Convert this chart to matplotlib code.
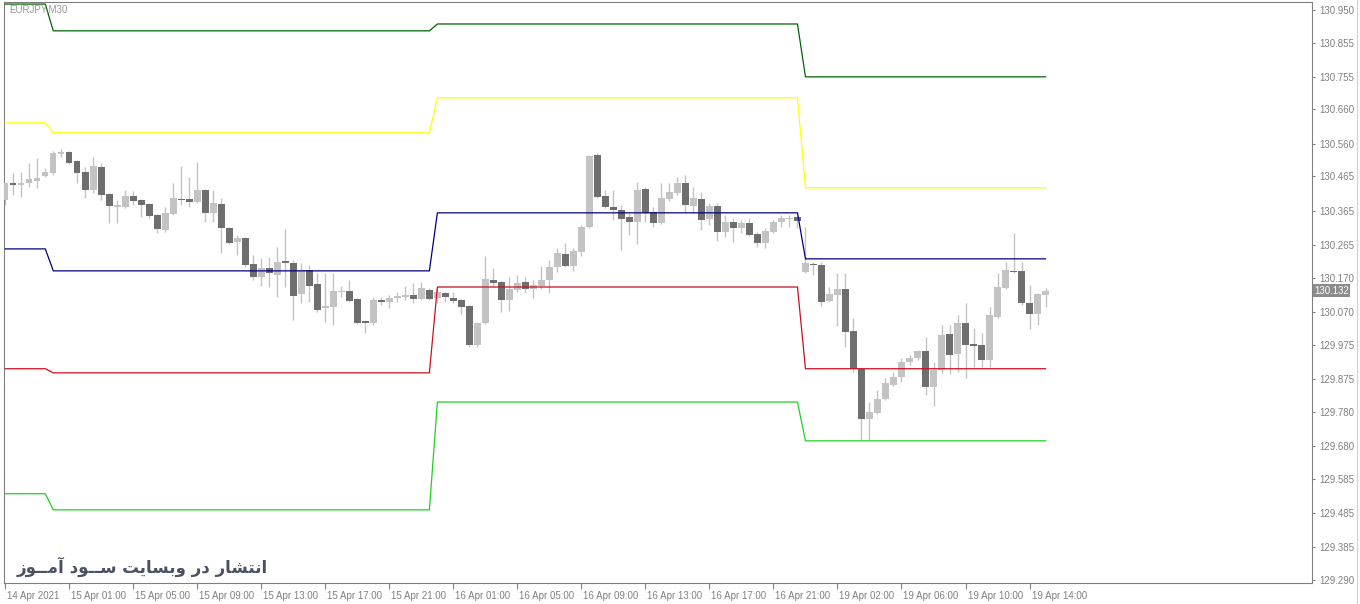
import numpy as np
import matplotlib
matplotlib.use('Agg')
import matplotlib.pyplot as plt
from matplotlib.lines import Line2D
from matplotlib.transforms import ScaledTranslation

plt.rcParams['font.family'] = ['Liberation Sans', 'DejaVu Sans']

# EURJPY M30 bars, 14 Apr 21:00 .. 19 Apr 15:00 (x = bar number)
opens = [130.397, 130.445, 130.440, 130.446, 130.452, 130.466, 130.475, 130.531, 130.536, 130.510,
         130.478, 130.426, 130.493, 130.414, 130.376, 130.376, 130.408, 130.397, 130.385, 130.353,
         130.309, 130.356, 130.400, 130.400, 130.391, 130.426, 130.359, 130.385, 130.315, 130.274,
         130.286, 130.210, 130.172, 130.199, 130.178, 130.219, 130.213, 130.123, 130.193, 130.152,
         130.082, 130.085, 130.129, 130.132, 130.108, 130.044, 130.038, 130.105, 130.100, 130.111,
         130.114, 130.120, 130.108, 130.135, 130.111, 130.126, 130.111, 130.105, 130.088, 129.975,
         130.038, 130.164, 130.158, 130.105, 130.135, 130.158, 130.137, 130.146, 130.164, 130.201,
         130.239, 130.204, 130.245, 130.318, 130.528, 130.408, 130.376, 130.367, 130.347, 130.333,
         130.429, 130.362, 130.330, 130.400, 130.417, 130.446, 130.379, 130.400, 130.341, 130.379,
         130.304, 130.333, 130.315, 130.330, 130.298, 130.271, 130.304, 130.333, 130.341, 130.347,
         130.187, 130.210, 130.207, 130.102, 130.120, 130.137, 130.015, 129.904, 129.759, 129.776,
         129.817, 129.858, 129.881, 129.925, 129.936, 129.957, 129.852, 129.902, 130.006, 129.948,
         130.038, 129.977, 129.975, 129.931, 130.056, 130.140, 130.190, 130.190, 130.097, 130.065,
         130.120]
highs = [130.446, 130.475, 130.478, 130.504, 130.519, 130.490, 130.539, 130.545, 130.539, 130.513,
         130.493, 130.522, 130.504, 130.417, 130.397, 130.426, 130.423, 130.400, 130.388, 130.356,
         130.376, 130.446, 130.496, 130.464, 130.507, 130.429, 130.426, 130.403, 130.318, 130.295,
         130.289, 130.236, 130.228, 130.231, 130.260, 130.312, 130.222, 130.213, 130.207, 130.184,
         130.184, 130.184, 130.146, 130.164, 130.111, 130.047, 130.114, 130.114, 130.120, 130.129,
         130.146, 130.155, 130.158, 130.140, 130.140, 130.129, 130.129, 130.108, 130.091, 130.041,
         130.234, 130.199, 130.161, 130.172, 130.178, 130.172, 130.164, 130.204, 130.222, 130.257,
         130.271, 130.257, 130.324, 130.528, 130.533, 130.426, 130.426, 130.382, 130.359, 130.449,
         130.434, 130.376, 130.446, 130.446, 130.464, 130.469, 130.434, 130.420, 130.388, 130.388,
         130.353, 130.344, 130.338, 130.344, 130.304, 130.315, 130.338, 130.353, 130.353, 130.350,
         130.318, 130.216, 130.216, 130.143, 130.184, 130.184, 130.053, 129.907, 129.808, 129.843,
         129.878, 129.896, 129.936, 129.945, 129.960, 129.998, 129.925, 130.033, 130.033, 130.062,
         130.097, 130.024, 130.009, 130.085, 130.184, 130.216, 130.301, 130.216, 130.149, 130.126,
         130.140]
lows = [130.382, 130.411, 130.405, 130.434, 130.432, 130.464, 130.469, 130.522, 130.501, 130.446,
        130.403, 130.417, 130.397, 130.330, 130.330, 130.373, 130.382, 130.347, 130.344, 130.301,
        130.304, 130.353, 130.382, 130.376, 130.388, 130.333, 130.333, 130.242, 130.269, 130.236,
        130.201, 130.164, 130.146, 130.143, 130.114, 130.143, 130.047, 130.097, 130.100, 130.070,
        130.041, 130.033, 130.114, 130.100, 130.035, 130.009, 130.033, 130.091, 130.082, 130.100,
        130.105, 130.097, 130.105, 130.105, 130.097, 130.100, 130.097, 130.064, 129.969, 129.969,
        130.035, 130.143, 130.070, 130.073, 130.129, 130.126, 130.111, 130.137, 130.126, 130.187,
        130.201, 130.190, 130.234, 130.315, 130.403, 130.373, 130.338, 130.251, 130.295, 130.269,
        130.333, 130.318, 130.327, 130.394, 130.411, 130.362, 130.359, 130.309, 130.324, 130.277,
        130.289, 130.274, 130.301, 130.292, 130.260, 130.257, 130.301, 130.318, 130.318, 130.315,
        130.184, 130.178, 130.088, 130.100, 130.030, 129.969, 129.896, 129.698, 129.698, 129.773,
        129.814, 129.855, 129.867, 129.916, 129.931, 129.829, 129.797, 129.893, 129.890, 129.896,
        129.878, 129.910, 129.910, 129.910, 130.053, 130.137, 130.184, 130.091, 130.021, 130.033,
        130.085]
closes = [130.446, 130.440, 130.446, 130.458, 130.461, 130.478, 130.533, 130.536, 130.504, 130.475,
          130.426, 130.496, 130.411, 130.379, 130.382, 130.408, 130.394, 130.382, 130.350, 130.312,
          130.359, 130.403, 130.397, 130.391, 130.426, 130.359, 130.388, 130.315, 130.271, 130.286,
          130.207, 130.172, 130.199, 130.184, 130.216, 130.213, 130.117, 130.193, 130.146, 130.076,
          130.088, 130.132, 130.132, 130.102, 130.038, 130.038, 130.105, 130.100, 130.111, 130.117,
          130.120, 130.108, 130.140, 130.108, 130.129, 130.114, 130.102, 130.085, 129.975, 130.038,
          130.167, 130.155, 130.105, 130.137, 130.155, 130.137, 130.149, 130.164, 130.201, 130.242,
          130.204, 130.248, 130.318, 130.525, 130.405, 130.376, 130.367, 130.341, 130.333, 130.426,
          130.359, 130.330, 130.403, 130.420, 130.446, 130.382, 130.403, 130.338, 130.379, 130.304,
          130.333, 130.315, 130.330, 130.295, 130.271, 130.306, 130.333, 130.344, 130.344, 130.335,
          130.213, 130.207, 130.100, 130.123, 130.137, 130.012, 129.904, 129.759, 129.779, 129.817,
          129.864, 129.881, 129.925, 129.936, 129.957, 129.852, 129.902, 130.003, 129.945, 130.038,
          129.975, 129.972, 129.931, 130.062, 130.143, 130.193, 130.187, 130.097, 130.065, 130.123,
          130.132]

# daily levels: bar where each day starts, one value per day
day_start = [0, 6, 54, 100]
lvl_r2 = [130.967, 130.889, 130.909, 130.755]
lvl_r1 = [130.621, 130.592, 130.694, 130.432]
lvl_pp = [130.254, 130.190, 130.359, 130.225]
lvl_s1 = [129.905, 129.893, 130.143, 129.905]
lvl_s2 = [129.541, 129.494, 129.808, 129.695]

tick_bars = [0, 8, 16, 24, 32, 40, 48, 56, 64, 72, 80, 88, 96, 104, 112, 120, 128]
tick_labels = ['14 Apr 2021', '15 Apr 01:00', '15 Apr 05:00', '15 Apr 09:00', '15 Apr 13:00',
               '15 Apr 17:00', '15 Apr 21:00', '16 Apr 01:00', '16 Apr 05:00', '16 Apr 09:00',
               '16 Apr 13:00', '16 Apr 17:00', '16 Apr 21:00', '19 Apr 02:00', '19 Apr 06:00',
               '19 Apr 10:00', '19 Apr 14:00']
price_ticks = [129.290, 129.385, 129.485, 129.585, 129.680, 129.780, 129.875, 129.975, 130.070,
               130.170, 130.265, 130.365, 130.465, 130.560, 130.660, 130.755, 130.855, 130.950]
last_price = 130.132

watermark = 'انتشار در وبسایت ســود آمــوز'

# --- tiny arabic/persian shaper (matplotlib has no shaping / bidi) ---
FORMS = {
    'ا': ('\uFE8D', '\uFE8E', None, None),
    'آ': ('\uFE81', '\uFE82', None, None),
    'ب': ('\uFE8F', '\uFE90', '\uFE91', '\uFE92'),
    'ت': ('\uFE95', '\uFE96', '\uFE97', '\uFE98'),
    'د': ('\uFEA9', '\uFEAA', None, None),
    'ر': ('\uFEAD', '\uFEAE', None, None),
    'ز': ('\uFEAF', '\uFEB0', None, None),
    'س': ('\uFEB1', '\uFEB2', '\uFEB3', '\uFEB4'),
    'ش': ('\uFEB5', '\uFEB6', '\uFEB7', '\uFEB8'),
    'م': ('\uFEE1', '\uFEE2', '\uFEE3', '\uFEE4'),
    'ن': ('\uFEE5', '\uFEE6', '\uFEE7', '\uFEE8'),
    'و': ('\uFEED', '\uFEEE', None, None),
    'ی': ('\uFEEF', '\uFEF0', '\uFEF3', '\uFEF4'),
}
TATWEEL = '\u0640'


def shape(s):
    def links_next(ch):
        return ch == TATWEEL or (ch in FORMS and FORMS[ch][2] is not None)

    def links_prev(ch):
        return ch == TATWEEL or ch in FORMS
    out = []
    for i, ch in enumerate(s):
        if ch not in FORMS:
            out.append(ch)
            continue
        prev = s[i - 1] if i > 0 else ' '
        nxt = s[i + 1] if i + 1 < len(s) else ' '
        p = links_next(prev)
        n = FORMS[ch][2] is not None and links_prev(nxt)
        iso, fin, ini, med = FORMS[ch]
        out.append(med if (p and n) else fin if p else ini if n else iso)
    return ''.join(reversed(out))


o = np.array(opens)
h = np.array(highs)
l = np.array(lows)
c = np.array(closes)
x = np.arange(len(o))
bull = c >= o

seg_len = np.diff(day_start + [len(o)])

fig = plt.figure(figsize=(13.6, 6.04), dpi=100)
ax = fig.add_axes([4 / 1360, 21 / 604, 1308 / 1360, 581 / 604])

light = '#c3c3c3'
dark = '#6e6e6e'
ax.vlines(x, l, h, color=light, lw=1.0, zorder=2)
body_bot = np.minimum(o, c)
body_h = np.maximum(np.abs(c - o), 0.003)
ax.bar(x, body_h, bottom=body_bot, width=0.8, color=np.where(bull, light, dark),
       linewidth=0, zorder=3)

for lv, col in [(lvl_r2, '#006400'), (lvl_r1, '#ffff00'), (lvl_pp, '#000080'),
                (lvl_s1, '#c81020'), (lvl_s2, '#22d022')]:
    ax.plot(x, np.repeat(lv, seg_len), color=col, lw=0.9, zorder=4)

ax.set_xlim(-0.16, 163.3)
ax.set_ylim(129.281, 130.973)

ax.yaxis.tick_right()
ax.set_yticks(price_ticks, ['%.3f' % v for v in price_ticks])
ax.set_xticks(tick_bars, tick_labels)
ax.tick_params(axis='y', direction='out', length=2.5, width=0.8, color='#808080',
               labelcolor='#808080', labelsize=7, pad=3)
ax.tick_params(axis='x', direction='out', length=4, width=0.8, color='#808080',
               labelcolor='#808080', labelsize=7, pad=2)
off = ScaledTranslation(2 / 100, 0, fig.dpi_scale_trans)
for t in ax.get_xticklabels():
    t.set_horizontalalignment('left')
    t.set_transform(t.get_transform() + off)
for s in ax.spines.values():
    s.set_color('#808080')
    s.set_linewidth(0.8)

ax.text(1.0 + 2 / 1308, last_price, '%.3f' % last_price, transform=ax.get_yaxis_transform(),
        fontsize=7, color='white', ha='left', va='center',
        bbox=dict(boxstyle='square,pad=0.15', fc='#8c8c8c', ec='none'))

fig.text(9 / 1360, 1 - 10 / 604, 'EURJPY,M30', fontsize=7, color='#999999', va='center')
fig.text(17 / 1360, 1 - 567 / 604, shape(watermark), fontsize=12, fontweight='bold',
         family='DejaVu Sans', color='#4a5262', ha='left', va='center')
fig.add_artist(Line2D([1357 / 1360] * 2, [0, 1], color='#d0d0d0', lw=0.8,
                      transform=fig.transFigure))

fig.savefig('out.png', dpi=100, facecolor='white')
